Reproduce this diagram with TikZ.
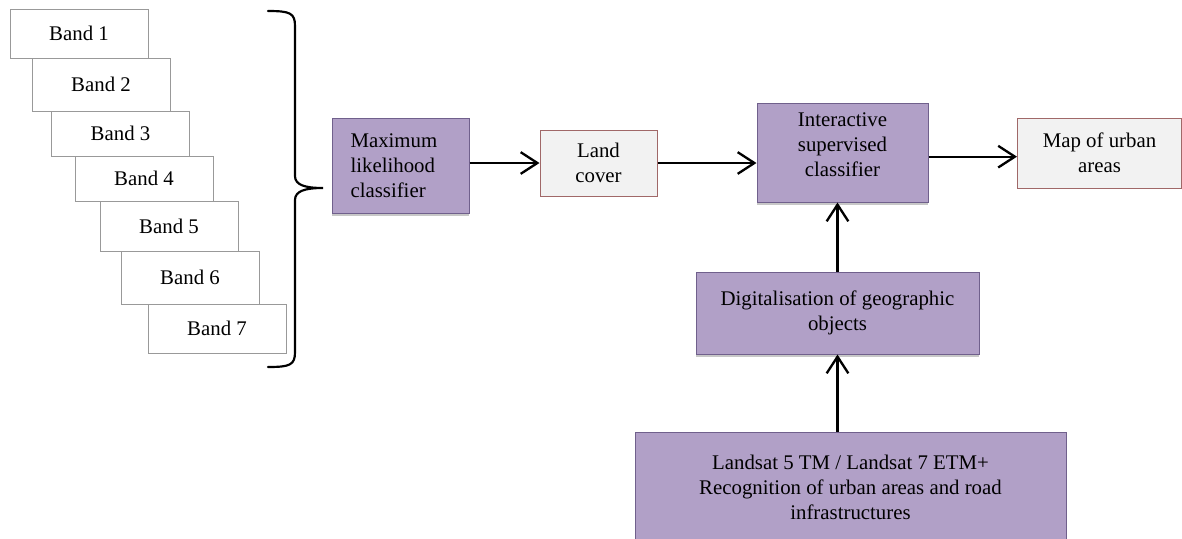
\documentclass[tikz,border=0pt]{standalone}
\usepackage{fontspec}
\setmainfont{Liberation Serif}
\usepackage{xcolor}
\definecolor{Col1}{RGB}{177,160,199}
\definecolor{Col2}{RGB}{112,96,140}
\definecolor{Col3}{RGB}{242,242,242}
\definecolor{Col4}{RGB}{160,104,104}
\usepackage{tikz}
\usetikzlibrary{arrows.meta}
\usetikzlibrary{shadows}
\tikzstyle{Txt}=[font=\fontsize{12.5}{15}\selectfont,inner sep=0pt]
\tikzstyle{BandBox}=[Txt,draw=black!40,fill=white,minimum width=82.8pt,line width=.5pt]
\tikzstyle{ProcBox}=[Txt,draw=Col2,fill=Col1,line width=.6pt,align=center,
drop shadow={shadow xshift=0pt,shadow yshift=-2pt,fill=black!22,opacity=1}]
\tikzstyle{OutBox}=[Txt,draw=Col4,fill=Col3,line width=.6pt,align=center]
\tikzstyle{Arrow}=[draw=black,line width=1.4pt,-{Straight Barb[length=10pt,width=13pt,line width=1.4pt]}]

\begin{document}
\begin{tikzpicture}[x=0.6pt,y=-0.6pt]
        \useasboundingbox(0,0)rectangle(1182,538);
        % bands
        \node[BandBox,minimum height=29.4pt](b1)at(79,33.5){Band 1};
        \node[BandBox,minimum height=31.8pt](b2)at(101,84.5){Band 2};
        \node[BandBox,minimum height=27pt](b3)at(120.5,133.5){Band 3};
        \node[BandBox,minimum height=27pt](b4)at(144,178.5){Band 4};
        \node[BandBox,minimum height=30pt](b5)at(169,226){Band 5};
        \node[BandBox,minimum height=31.8pt](b6)at(190,277.5){Band 6};
        \node[BandBox,minimum height=29.4pt](b7)at(217,328.5){Band 7};
        \draw[line width=1.3pt,line cap=round](268,11).. controls (290,11) and (295,13) .. (295,26)
            --(295,176).. controls (295,185) and (305,188) .. (323,188)
            .. controls (305,188) and (295,191) .. (295,200)
            --(295,352).. controls (295,365) and (290,367) .. (268,367);
        % boxes
        \node[ProcBox,align=left,text width=60pt,minimum width=82.2pt,minimum height=57pt,
            inner xsep=11pt](mlc)at(400.5,165.5){Maximum\\likelihood\\classifier};
        \node[OutBox,minimum width=70.2pt,minimum height=39.6pt](lc)at(598.5,163){Land\\cover};
        \node[ProcBox,minimum width=102.6pt,minimum height=59.4pt](isc)at(842.5,152.5){
            Interactive\\supervised\\classifier\\[-5pt]};
        \node[OutBox,minimum width=98.4pt,minimum height=42pt](map)at(1099.5,153){Map of urban\\areas};
        \node[ProcBox,minimum width=169.8pt,minimum height=49.2pt](dig)at(837.5,313){
            Digitalisation of geographic\\objects};
        \node[ProcBox,minimum width=258.6pt,minimum height=66pt](lsat)at(850.5,487){
            Landsat 5 TM / Landsat 7 ETM+\\Recognition of urban areas and road\\infrastructures};
        % arrows
        \draw[Arrow](mlc.east |- lc.west)--(lc.west);
        \draw[Arrow](lc.east)--(lc.east -| isc.west);
        \draw[Arrow]([yshift=-2.5pt]isc.east)--([yshift=-2.5pt]isc.east -| map.west);
        \draw[Arrow](dig.north)--(dig.north |- isc.south);
        \draw[Arrow](dig.south |- lsat.north)--(dig.south);
    \end{tikzpicture}
\end{document}
